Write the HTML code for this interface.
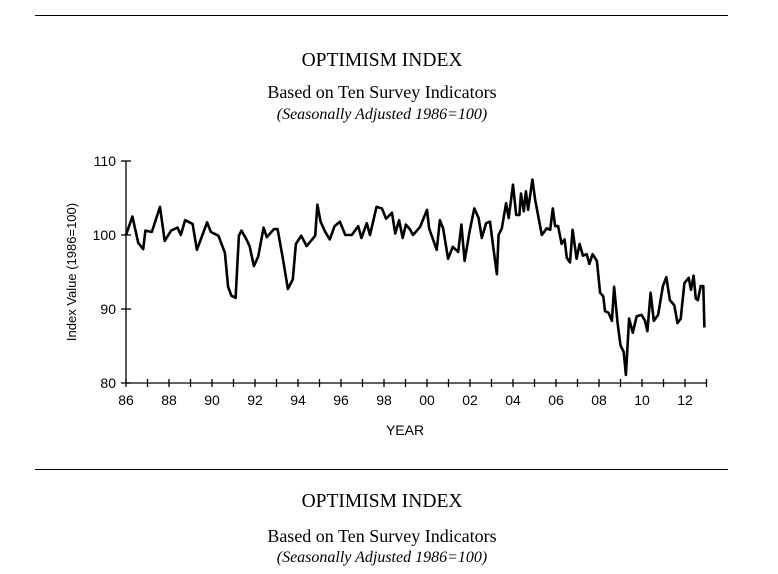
<!DOCTYPE html>
<html><head><meta charset="utf-8"><style>
body{margin:0;background:#fff;}
svg{display:block;}
.serif{font-family:"Liberation Serif",serif;}
.sans{font-family:"Liberation Sans",sans-serif;}
</style></head><body>
<svg id="chart" width="778" height="574" viewBox="0 0 778 574">
<line x1="35" y1="15.5" x2="728" y2="15.5" stroke="#000" stroke-width="1"/>
<text x="382" y="66" text-anchor="middle" class="serif" font-size="19.5">OPTIMISM INDEX</text>
<text x="382" y="98" text-anchor="middle" class="serif" font-size="18">Based on Ten Survey Indicators</text>
<text x="382" y="119" text-anchor="middle" class="serif" font-size="16" font-style="italic">(Seasonally Adjusted 1986=100)</text>
<g id="axes"></g>
<path id="series" fill="none" stroke="#000" stroke-width="2.6" stroke-linejoin="round"/>
<text x="405" y="435" text-anchor="middle" class="sans" font-size="14">YEAR</text>
<text transform="translate(76,272) rotate(-90)" text-anchor="middle" class="sans" font-size="13">Index Value (1986=100)</text>
<line x1="35" y1="469.5" x2="728" y2="469.5" stroke="#000" stroke-width="1"/>
<text x="382" y="507" text-anchor="middle" class="serif" font-size="19.5">OPTIMISM INDEX</text>
<text x="382" y="542" text-anchor="middle" class="serif" font-size="18">Based on Ten Survey Indicators</text>
<text x="382" y="562" text-anchor="middle" class="serif" font-size="16" font-style="italic">(Seasonally Adjusted 1986=100)</text>
</svg>
<script>
const years=[86.0,86.3,86.57,86.8,86.9,87.2,87.58,87.8,88.1,88.4,88.55,88.75,89.1,89.3,89.77,89.95,90.3,90.6,90.75,90.9,91.1,91.25,91.37,91.6,91.75,91.95,92.15,92.4,92.55,92.88,93.05,93.3,93.53,93.76,93.9,94.15,94.4,94.6,94.8,94.9,95.05,95.25,95.48,95.7,95.95,96.2,96.5,96.8,96.95,97.2,97.35,97.65,97.9,98.1,98.37,98.52,98.7,98.87,99.02,99.2,99.35,99.68,100.0,100.1,100.45,100.6,100.75,100.98,101.2,101.45,101.6,101.75,101.98,102.2,102.4,102.55,102.75,102.93,103.1,103.25,103.33,103.48,103.68,103.8,104.0,104.15,104.3,104.37,104.5,104.6,104.7,104.9,105.03,105.34,105.57,105.73,105.85,105.96,106.1,106.26,106.4,106.5,106.65,106.77,106.96,107.1,107.25,107.43,107.55,107.7,107.9,108.05,108.2,108.28,108.44,108.6,108.7,108.86,109.0,109.15,109.25,109.4,109.57,109.75,109.98,110.14,110.25,110.4,110.55,110.75,110.97,111.13,111.3,111.5,111.65,111.8,111.97,112.17,112.28,112.4,112.5,112.6,112.73,112.85,112.9];
const values=[100,102.5,98.9,98.1,100.6,100.4,103.8,99.2,100.6,101,100,102,101.5,98,101.7,100.4,99.9,97.6,93,91.8,91.5,99.9,100.6,99.4,98.5,95.8,97.1,101,99.7,100.8,100.8,96.8,92.7,94,98.8,99.9,98.5,99.2,99.9,104.1,101.8,100.5,99.4,101.2,101.8,100,100,101.2,99.6,101.6,100,103.8,103.6,102.2,103,100.2,102,99.6,101.4,100.8,100,101.1,103.4,100.9,98,102,100.9,96.8,98.4,97.7,101.4,96.5,100.5,103.6,102.3,99.6,101.6,101.8,98,94.7,100,100.9,104.3,102.3,106.8,102.7,102.7,105.6,103.2,105.9,103.4,107.5,104.8,100,100.9,100.7,103.6,101.2,101.2,98.8,99.4,96.9,96.3,100.7,96.8,98.8,97.2,97.4,96.1,97.4,96.5,92.2,91.7,89.7,89.5,88.4,93,88.2,85.1,84.2,81.1,88.7,86.8,89,89.2,88.4,87,92.2,88.4,89.2,93.1,94.3,91.2,90.5,88.1,88.7,93.5,94.2,92.6,94.5,91.4,91.2,93.1,93.1,87.5];
const yTicks=[80,90,100,110];
const xTickLabels=["86","88","90","92","94","96","98","00","02","04","06","08","10","12"];
const ns="http://www.w3.org/2000/svg";
const X=y=>126+(y-86)*21.5;
const Y=v=>383-(v-80)*7.4;
const ax=document.getElementById('axes');
function mk(tag,attrs,txt){const e=document.createElementNS(ns,tag);for(const k in attrs)e.setAttribute(k,attrs[k]);if(txt!==undefined)e.textContent=txt;ax.appendChild(e);return e;}
let e=mk('line',{x1:126,y1:161,x2:126,y2:383,stroke:'#000','stroke-width':1.3});


e=mk('line',{x1:126,y1:383,x2:707,y2:383,stroke:'#000','stroke-width':1.3});


yTicks.forEach(v=>{
  const t=mk('line',{x1:121,y1:Y(v),x2:131,y2:Y(v),stroke:'#000','stroke-width':1.3});
  
  
  const l=mk('text',{x:116,y:Y(v)+5,'text-anchor':'end','font-family':'Liberation Sans, sans-serif','font-size':14},String(v));
  
  
});
for(let yr=86;yr<=113;yr++){
  const t=mk('line',{x1:X(yr),y1:379,x2:X(yr),y2:387,stroke:'#000','stroke-width':1.3});
  
  
}
xTickLabels.forEach((s,i)=>{
  const l=mk('text',{x:X(86+2*i),y:405,'text-anchor':'middle','font-family':'Liberation Sans, sans-serif','font-size':14},s);
  
  
});
document.getElementById('series').setAttribute('d',years.map((y,i)=>(i?'L':'M')+X(y).toFixed(1)+' '+Y(values[i]).toFixed(1)).join(' '));
</script>
</body></html>
